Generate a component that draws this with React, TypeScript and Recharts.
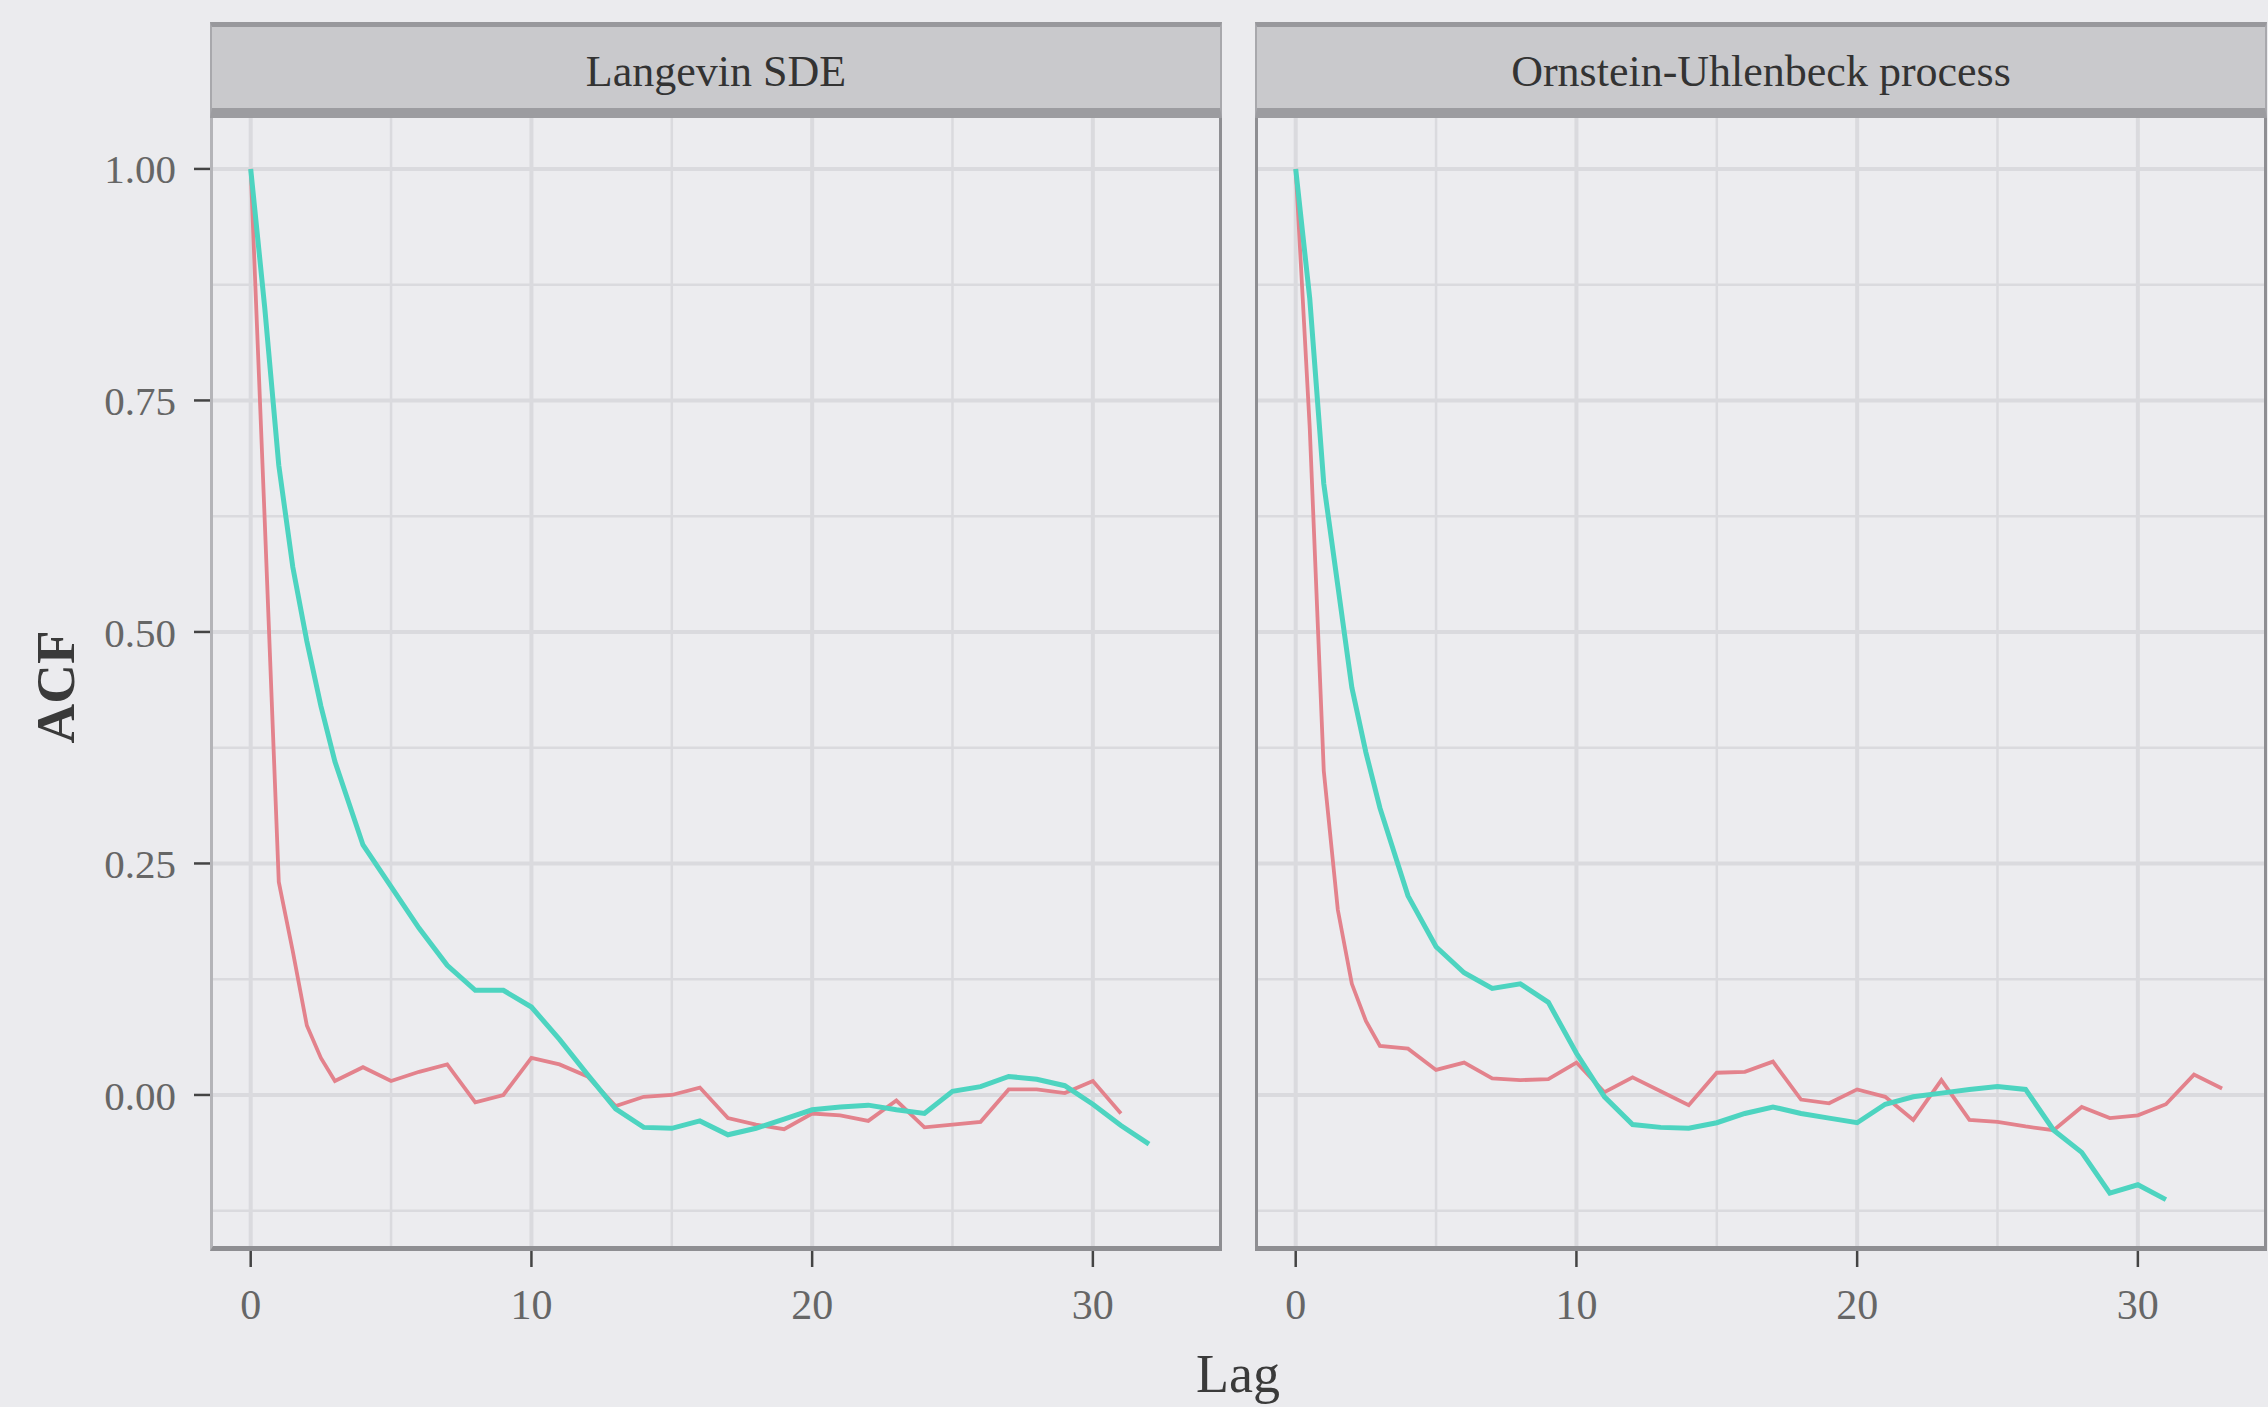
import React from 'react';
import { LineChart, Line, XAxis, YAxis, ReferenceLine } from 'recharts';

// ---------- data ----------
const lags = [0, 0.5, 1, 1.5, 2, 2.5, 3, 4, 5, 6, 7, 8, 9, 10, 11, 12, 13, 14, 15, 16, 17, 18, 19, 20, 21, 22, 23, 24, 25, 26, 27, 28, 29, 30, 31, 32, 33];

const langevinRed = [1.0, 0.62, 0.23, 0.155, 0.075, 0.04, 0.015, 0.03, 0.015, 0.025, 0.033, -0.008, 0.0, 0.04, 0.033, 0.02, -0.012, -0.002, 0.0, 0.008, -0.025, -0.032, -0.037, -0.02, -0.022, -0.028, -0.006, -0.035, -0.032, -0.029, 0.006, 0.006, 0.002, 0.015, -0.02, null, null];
const langevinTeal = [1.0, 0.85, 0.68, 0.57, 0.49, 0.42, 0.36, 0.27, 0.225, 0.18, 0.14, 0.113, 0.113, 0.095, 0.06, 0.022, -0.015, -0.035, -0.036, -0.028, -0.043, -0.036, -0.026, -0.016, -0.013, -0.011, -0.016, -0.02, 0.004, 0.009, 0.02, 0.017, 0.01, -0.01, -0.033, -0.053, null];

const ouRed = [1.0, 0.72, 0.35, 0.2, 0.12, 0.08, 0.053, 0.05, 0.027, 0.035, 0.018, 0.016, 0.017, 0.035, 0.003, 0.019, 0.004, -0.011, 0.024, 0.025, 0.036, -0.005, -0.009, 0.006, -0.002, -0.027, 0.016, -0.027, -0.029, -0.034, -0.038, -0.013, -0.025, -0.022, -0.01, 0.022, 0.007];
const ouTeal = [1.0, 0.86, 0.66, 0.55, 0.44, 0.37, 0.31, 0.215, 0.16, 0.132, 0.115, 0.12, 0.1, 0.045, -0.002, -0.032, -0.035, -0.036, -0.03, -0.02, -0.013, -0.02, -0.025, -0.03, -0.01, -0.002, 0.002, 0.006, 0.009, 0.006, -0.038, -0.062, -0.106, -0.097, -0.113, null, null];

const panelTitles = ['Langevin SDE', 'Ornstein-Uhlenbeck process'];
const xTicks = [0, 10, 20, 30];
const xMinor = [5, 15, 25];
const yTicks = [0, 0.25, 0.5, 0.75, 1.0];
const yMinor = [-0.125, 0.125, 0.375, 0.625, 0.875];
const xDomain = [-1.45, 34.6];
const yDomain = [-0.1685, 1.055];

const leftData = lags.map((lag, i) => ({ lag, red: langevinRed[i], teal: langevinTeal[i] }));
const rightData = lags.map((lag, i) => ({ lag, red: ouRed[i], teal: ouTeal[i] }));

// ---------- style ----------
const FONT = '"Liberation Serif", "DejaVu Serif", serif';
const PAGE_BG = '#ebebee';
const PANEL_BG = '#ececef';
const GRID = '#dadade';
const RED = '#e3828c';
const TEAL = '#4dd4c0';
const BORDER = '#8e8e92';

const W = 2268;
const H = 1407;
const PLOT_TOP = 118;
const PLOT_H = 1133;
const PLOT_W = 1012;
const Y_AXIS_W = 210;
const X_AXIS_H = 100;
const STRIP_TOP = 22;

function Panel({ data, left, showY, title }: { data: any[]; left: number; showY: boolean; title: string }) {
  const chartLeft = showY ? left - Y_AXIS_W : left;
  const chartW = (showY ? Y_AXIS_W : 0) + PLOT_W;
  return (
    <>
      <div style={{ position: 'absolute', left, top: PLOT_TOP, width: PLOT_W, height: PLOT_H, background: PANEL_BG }} />
      <div style={{ position: 'absolute', left: chartLeft, top: 0 }}>
        <LineChart
          width={chartW}
          height={H}
          data={data}
          margin={{ top: PLOT_TOP, right: 0, bottom: H - PLOT_TOP - PLOT_H - X_AXIS_H, left: 0 }}
        >
          <XAxis
            type="number"
            dataKey="lag"
            domain={xDomain}
            ticks={xTicks}
            allowDataOverflow
            height={X_AXIS_H}
            axisLine={false}
            tickSize={16}
            tickMargin={22}
            tickLine={{ stroke: '#444', strokeWidth: 2.5 }}
            tick={{ fill: '#666', fontSize: 42, fontFamily: FONT }}
          />
          <YAxis
            type="number"
            domain={yDomain}
            ticks={yTicks}
            allowDataOverflow
            hide={!showY}
            width={Y_AXIS_W}
            axisLine={false}
            tickSize={16}
            tickMargin={18}
            tickLine={{ stroke: '#444', strokeWidth: 2.5 }}
            tickFormatter={(v: number) => v.toFixed(2)}
            tick={{ fill: '#666', fontSize: 41, fontFamily: FONT }}
          />
          {yMinor.map((v) => (
            <ReferenceLine key={'ym' + v} y={v} stroke={GRID} strokeWidth={2.5} />
          ))}
          {yTicks.map((v) => (
            <ReferenceLine key={'yM' + v} y={v} stroke={GRID} strokeWidth={4} />
          ))}
          {xMinor.map((v) => (
            <ReferenceLine key={'xm' + v} x={v} stroke={GRID} strokeWidth={2.5} />
          ))}
          {xTicks.map((v) => (
            <ReferenceLine key={'xM' + v} x={v} stroke={GRID} strokeWidth={4} />
          ))}
          <Line type="linear" dataKey="red" stroke={RED} strokeWidth={3.8} dot={false} isAnimationActive={false} connectNulls={false} />
          <Line type="linear" dataKey="teal" stroke={TEAL} strokeWidth={5} dot={false} isAnimationActive={false} connectNulls={false} />
        </LineChart>
      </div>
      <div
        style={{
          position: 'absolute',
          left,
          top: PLOT_TOP,
          width: PLOT_W,
          height: PLOT_H,
          boxSizing: 'border-box',
          borderLeft: `3px solid ${showY ? '#b4b4b8' : BORDER}`,
          borderRight: `3px solid ${BORDER}`,
          borderBottom: `5px solid ${BORDER}`,
          pointerEvents: 'none',
        }}
      />
      <div
        style={{
          position: 'absolute',
          left,
          top: STRIP_TOP,
          width: PLOT_W,
          height: PLOT_TOP - STRIP_TOP,
          boxSizing: 'border-box',
          background: '#c9c9cc',
          borderTop: `5px solid #98989c`,
          borderBottom: `10px solid #9c9ca0`,
          borderLeft: `2px solid #a8a8ac`,
          borderRight: `2px solid #a8a8ac`,
          display: 'flex',
          alignItems: 'center',
          justifyContent: 'center',
          paddingTop: 8,
          fontFamily: FONT,
          fontSize: 44,
          color: '#333',
        }}
      >
        {title}
      </div>
    </>
  );
}

export default function App() {
  return (
    <div style={{ position: 'absolute', left: 0, top: 0, width: W, height: H, background: PAGE_BG, overflow: 'hidden' }}>
      <Panel data={leftData} left={210} showY={true} title={panelTitles[0]} />
      <Panel data={rightData} left={1255} showY={false} title={panelTitles[1]} />
      <div
        style={{
          position: 'absolute',
          left: 55,
          top: 687,
          transform: 'translate(-50%, -50%) rotate(-90deg)',
          fontFamily: FONT,
          fontSize: 55,
          fontWeight: 'bold',
          color: '#3a3a3a',
          whiteSpace: 'nowrap',
        }}
      >
        ACF
      </div>
      <div
        style={{
          position: 'absolute',
          left: 1238,
          top: 1374,
          transform: 'translate(-50%, -50%)',
          fontFamily: FONT,
          fontSize: 54,
          color: '#3a3a3a',
          whiteSpace: 'nowrap',
        }}
      >
        Lag
      </div>
    </div>
  );
}
